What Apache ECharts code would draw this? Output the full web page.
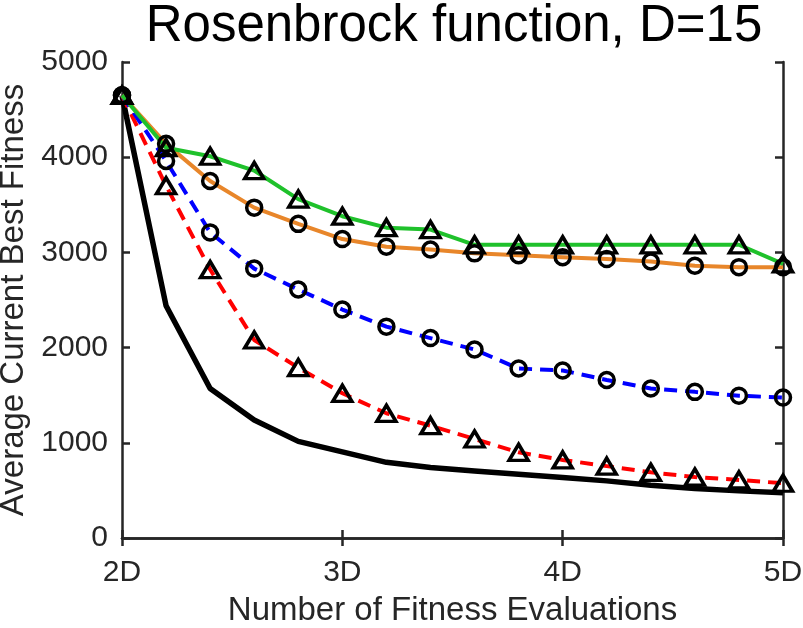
<!DOCTYPE html>
<html>
<head>
<meta charset="utf-8">
<script src="https://cdn.jsdelivr.net/npm/echarts@6/dist/echarts.min.js"></script>
<style>
  html, body { margin: 0; padding: 0; background: #fff; }
  #chart { width: 803px; height: 628px; }
</style>
</head>
<body>
<div id="chart"></div>
<script>
// evaluations, in multiples of D
const evals = [2, 2.2, 2.4, 2.6, 2.8, 3, 3.2, 3.4, 3.6, 3.8, 4, 4.2, 4.4, 4.6, 4.8, 5];

const greenTri = [4650, 4100, 4010, 3860, 3560, 3380, 3260, 3240, 3080, 3080, 3080, 3080, 3080, 3080, 3080, 2880];
const orangeCirc = [4650, 4140, 3750, 3470, 3300, 3140, 3060, 3030, 2990, 2970, 2950, 2930, 2905, 2860, 2845, 2845];
const blueCirc = [4650, 3960, 3210, 2830, 2610, 2400, 2220, 2100, 1980, 1780, 1760, 1660, 1570, 1535, 1495, 1475];
const redTri = [4650, 3700, 2820, 2080, 1790, 1520, 1310, 1180, 1040, 900, 820, 755, 690, 640, 610, 575];
const blackLine = [4650, 2440, 1570, 1240, 1015, 905, 795, 740, 705, 670, 635, 600, 555, 520, 495, 475];

const yTicks = [0, 1000, 2000, 3000, 4000, 5000];

const font = 'Liberation Sans, Arial, Helvetica, sans-serif';
const axisColor = '#262626';

function pairs(vals) {
  return vals.map((v, i) => [evals[i], v]);
}

function line(name, vals, color, dashed, symbol, width) {
  return {
    name: name,
    type: 'line',
    data: pairs(vals),
    symbol: symbol || 'none',
    symbolSize: symbol === 'triangle' ? [19, 16] : 15,
    showSymbol: !!symbol,
    lineStyle: {
      color: color,
      width: width || 4,
      type: dashed ? [13, 8] : 'solid'
    },
    itemStyle: {
      color: 'transparent',
      borderColor: '#000',
      borderWidth: 3.5
    },
    emphasis: { disabled: true },
    animation: false
  };
}

const chart = echarts.init(document.getElementById('chart'));

chart.setOption({
  backgroundColor: '#fff',
  title: {
    text: 'Rosenbrock function, D=15',
    left: 449,
    textAlign: 'center',
    top: -4,
    textStyle: {
      fontFamily: font,
      fontSize: 51,
      fontWeight: 'normal',
      color: '#000'
    }
  },
  grid: {
    left: 122,
    right: 20,
    top: 62,
    bottom: 90,
    containLabel: false,
    outerBoundsMode: 'none'
  },
  xAxis: [{
    type: 'value',
    min: 2,
    max: 5,
    interval: 1,
    name: 'Number of Fitness Evaluations',
    nameLocation: 'middle',
    nameGap: 56,
    nameTextStyle: { fontFamily: font, fontSize: 33, color: axisColor },
    axisLine: { lineStyle: { color: axisColor, width: 2.5 } },
    axisTick: { inside: true, length: 8, lineStyle: { color: axisColor, width: 2.5 } },
    axisLabel: {
      formatter: v => v + 'D',
      margin: 20,
      fontFamily: font,
      fontSize: 30,
      color: axisColor
    },
    splitLine: { show: false }
  }, {
    type: 'value',
    position: 'top',
    min: 2,
    max: 5,
    interval: 1,
    axisLine: { show: true, lineStyle: { color: axisColor, width: 2.5 } },
    axisTick: { inside: true, length: 8, lineStyle: { color: axisColor, width: 2.5 } },
    axisLabel: { show: false },
    splitLine: { show: false }
  }],
  yAxis: [{
    type: 'value',
    min: yTicks[0],
    max: yTicks[yTicks.length - 1],
    interval: 1000,
    name: 'Average Current Best Fitness',
    nameLocation: 'middle',
    nameGap: 84,
    nameTextStyle: { fontFamily: font, fontSize: 33, color: axisColor },
    axisLine: { show: true, lineStyle: { color: axisColor, width: 2.5 } },
    axisTick: { show: true, inside: true, length: 8, lineStyle: { color: axisColor, width: 2.5 } },
    axisLabel: {
      formatter: v => String(v),
      margin: 14,
      fontFamily: font,
      fontSize: 30,
      color: axisColor
    },
    splitLine: { show: false }
  }, {
    type: 'value',
    position: 'right',
    min: yTicks[0],
    max: yTicks[yTicks.length - 1],
    interval: 1000,
    axisLine: { show: true, lineStyle: { color: axisColor, width: 2.5 } },
    axisTick: { show: true, inside: true, length: 8, lineStyle: { color: axisColor, width: 2.5 } },
    axisLabel: { show: false },
    splitLine: { show: false }
  }],
  series: [
    line('black', blackLine, '#000000', false, null, 5.5),
    line('red', redTri, '#ff0000', true, 'triangle'),
    line('blue', blueCirc, '#0000ff', true, 'circle'),
    line('orange', orangeCirc, '#e8862a', false, 'circle'),
    line('green', greenTri, '#1fc12b', false, 'triangle')
  ]
});
</script>
</body>
</html>
